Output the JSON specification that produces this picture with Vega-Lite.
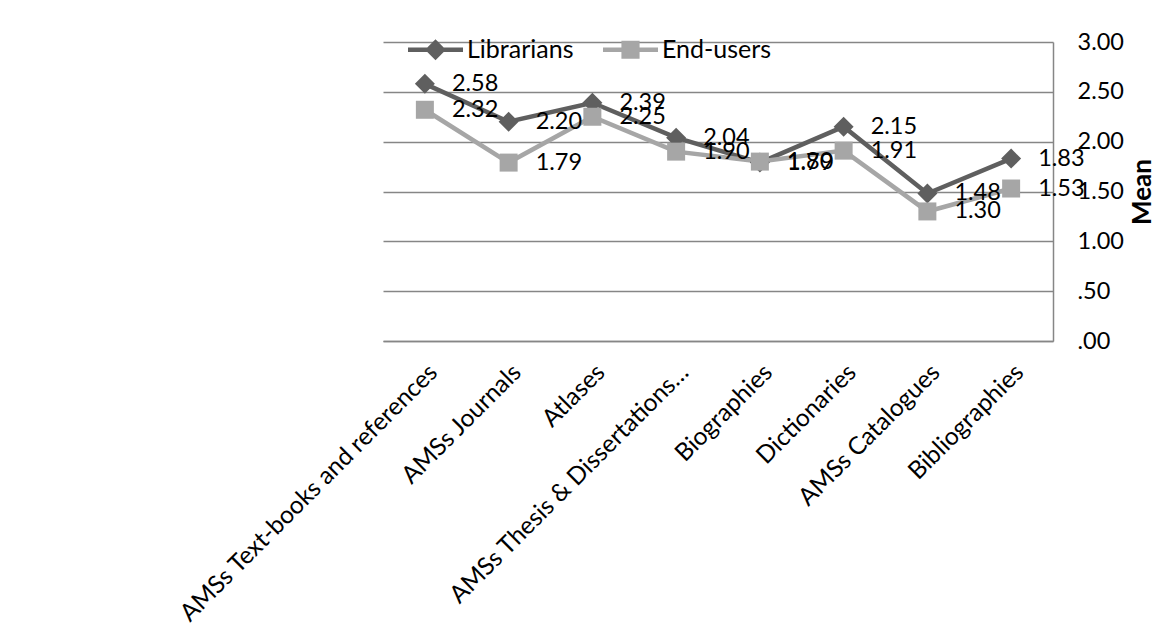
{
  "$schema": "https://vega.github.io/schema/vega-lite/v6.json",
  "width": 670,
  "height": 299,
  "autosize": {"type": "none"},
  "padding": {"left": 383, "top": 42, "right": 104, "bottom": 300},
  "background": "white",
  "config": {
    "font": "Lato",
    "view": {"stroke": null},
    "axis": {"labelColor": "black", "titleColor": "black"}
  },
  "data": {
    "values": [
      {"category": "AMSs Text-books and references", "series": "Librarians", "value": 2.58},
      {"category": "AMSs Journals", "series": "Librarians", "value": 2.20},
      {"category": "Atlases", "series": "Librarians", "value": 2.39},
      {"category": "AMSs Thesis & Dissertations…", "series": "Librarians", "value": 2.04},
      {"category": "Biographies", "series": "Librarians", "value": 1.79},
      {"category": "Dictionaries", "series": "Librarians", "value": 2.15},
      {"category": "AMSs Catalogues", "series": "Librarians", "value": 1.48},
      {"category": "Bibliographies", "series": "Librarians", "value": 1.83},
      {"category": "AMSs Text-books and references", "series": "End-users", "value": 2.32},
      {"category": "AMSs Journals", "series": "End-users", "value": 1.79},
      {"category": "Atlases", "series": "End-users", "value": 2.25},
      {"category": "AMSs Thesis & Dissertations…", "series": "End-users", "value": 1.90},
      {"category": "Biographies", "series": "End-users", "value": 1.80},
      {"category": "Dictionaries", "series": "End-users", "value": 1.91},
      {"category": "AMSs Catalogues", "series": "End-users", "value": 1.30},
      {"category": "Bibliographies", "series": "End-users", "value": 1.53}
    ]
  },
  "encoding": {
    "x": {
      "field": "category",
      "type": "nominal",
      "scale": {
        "type": "point",
        "padding": 0.5,
        "domain": ["AMSs Text-books and references", "AMSs Journals", "Atlases", "AMSs Thesis & Dissertations…", "Biographies", "Dictionaries", "AMSs Catalogues", "Bibliographies"]
      },
      "axis": {
        "title": null,
        "labelAngle": -45,
        "labelFontSize": 24.5,
        "labelPadding": 19,
        "labelLimit": 0,
        "ticks": false,
        "grid": false,
        "domainColor": "#868686",
        "domainWidth": 1.5
      }
    },
    "y": {
      "field": "value",
      "type": "quantitative",
      "scale": {"domain": [0, 3], "nice": false, "zero": true},
      "axis": {
        "orient": "right",
        "values": [0, 0.5, 1, 1.5, 2, 2.5, 3],
        "labelExpr": "datum.value < 1 ? slice(format(datum.value, '.2f'), 1) : format(datum.value, '.2f')",
        "labelAlign": "left",
        "labelPadding": 24,
        "labelFontSize": 23.5,
        "ticks": false,
        "grid": true,
        "gridColor": "#868686",
        "gridWidth": 1.5,
        "domainColor": "#868686",
        "domainWidth": 1.5,
        "title": "Mean",
        "titleFontSize": 26,
        "titleFontWeight": "bold",
        "titleAngle": 270,
        "titlePadding": 32
      }
    }
  },
  "layer": [
    {
      "mark": {"type": "line", "strokeWidth": 4.5},
      "encoding": {
        "color": {
          "field": "series",
          "type": "nominal",
          "scale": {"domain": ["Librarians", "End-users"], "range": ["#5f5f5f", "#a6a6a6"]},
          "legend": null
        }
      }
    },
    {
      "mark": {"type": "point", "filled": true, "opacity": 1, "size": 400, "strokeWidth": 0},
      "encoding": {
        "color": {
          "field": "series",
          "type": "nominal",
          "scale": {"domain": ["Librarians", "End-users"], "range": ["#5f5f5f", "#a6a6a6"]},
          "legend": null
        },
        "shape": {
          "field": "series",
          "type": "nominal",
          "scale": {"domain": ["Librarians", "End-users"], "range": ["M0,-1L1,0L0,1L-1,0Z", "M-0.9,-0.9H0.9V0.9H-0.9Z"]},
          "legend": null
        }
      }
    },
    {
      "mark": {"type": "text", "align": "left", "baseline": "middle", "dx": 27, "fontSize": 23.5, "color": "black"},
      "encoding": {
        "text": {"field": "value", "type": "quantitative", "format": ".2f"}
      }
    },
    {
      "transform": [{"filter": "false"}],
      "mark": {"type": "point", "filled": true, "opacity": 1, "strokeWidth": 0},
      "encoding": {
        "color": {
          "field": "series",
          "type": "nominal",
          "scale": {"domain": ["Librarians", "End-users"], "range": ["#5f5f5f", "#a6a6a6"]},
          "legend": {
            "orient": "none",
            "legendX": 25,
            "legendY": -20,
            "direction": "horizontal",
            "title": null,
            "padding": 0,
            "symbolSize": 3025,
            "symbolStrokeWidth": 0,
            "labelFontSize": 25,
            "labelOffset": 4,
            "columnPadding": 29
          }
        },
        "shape": {
          "field": "series",
          "type": "nominal",
          "scale": {"domain": ["Librarians", "End-users"], "range": ["M-1,-0.08H1V0.08H-1Z M0,-0.38L0.38,0L0,0.38L-0.38,0Z", "M-1,-0.08H1V0.08H-1Z M-0.33,-0.33H0.33V0.33H-0.33Z"]},
          "legend": {
            "orient": "none",
            "legendX": 25,
            "legendY": -20,
            "direction": "horizontal",
            "title": null,
            "padding": 0,
            "symbolSize": 3025,
            "symbolStrokeWidth": 0,
            "labelFontSize": 25,
            "labelOffset": 4,
            "columnPadding": 29
          }
        }
      }
    }
  ],
  "resolve": {"scale": {"color": "independent", "shape": "independent"}}
}
